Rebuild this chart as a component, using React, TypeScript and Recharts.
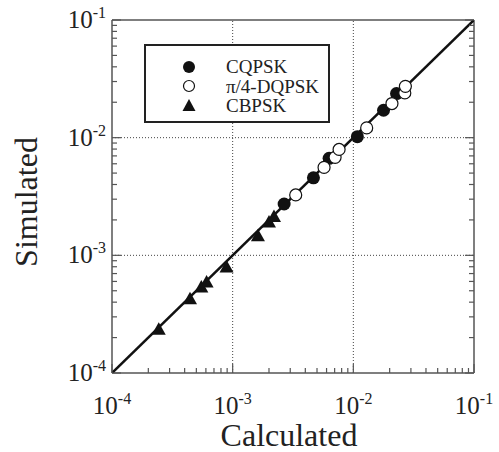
import React from 'react';
import {
  ScatterChart,
  Scatter,
  XAxis,
  YAxis,
  ReferenceLine,
  Legend,
} from 'recharts';

const FONT = '"Liberation Serif", "DejaVu Serif", serif';
const AXIS_COLOR = '#555';

// calculated (x) vs simulated (y) values
const cqpskX = [2.67e-3, 4.67e-3, 6.3e-3, 1.08e-2, 1.78e-2, 2.28e-2];
const cqpskY = [2.73e-3, 4.56e-3, 6.67e-3, 1.02e-2, 1.71e-2, 2.37e-2];

const dqpskX = [3.33e-3, 5.72e-3, 7.06e-3, 7.62e-3, 1.29e-2, 2.09e-2, 2.67e-2, 2.7e-2];
const dqpskY = [3.26e-3, 5.59e-3, 6.8e-3, 7.94e-3, 1.21e-2, 1.95e-2, 2.4e-2, 2.73e-2];

const cbpskX = [2.44e-4, 4.43e-4, 5.5e-4, 6.08e-4, 8.9e-4, 1.62e-3, 2.0e-3, 2.2e-3];
const cbpskY = [2.31e-4, 4.2e-4, 5.27e-4, 5.81e-4, 7.8e-4, 1.44e-3, 1.88e-3, 2.1e-3];

// y = x reference line
const refLineX = [1e-4, 1e-1];

const domain: [number, number] = [1e-4, 1e-1];
const decades = [1e-4, 1e-3, 1e-2];
const mantissas = [1, 2, 3, 4, 5, 6, 7, 8, 9];
const gridValues = [1e-3, 1e-2];
const allTicks = [...decades.flatMap((d) => mantissas.map((m) => m * d)), 1e-1];

const legendItems = [
  { name: 'CQPSK', kind: 'filled' },
  { name: 'π/4-DQPSK', kind: 'open' },
  { name: 'CBPSK', kind: 'triangle' },
];

const toPoints = (xs: number[], ys: number[]) => xs.map((x, i) => ({ x, y: ys[i] }));
const cqpskData = toPoints(cqpskX, cqpskY);
const dqpskData = toPoints(dqpskX, dqpskY);
const cbpskData = toPoints(cbpskX, cbpskY);
const refData = toPoints(refLineX, refLineX);

const isMajor = (v: number) => {
  const l = Math.log10(v);
  return Math.abs(l - Math.round(l)) < 1e-6;
};
const expOf = (v: number) => String(Math.round(Math.log10(v)));

const MAJOR_LEN = 9;
const MINOR_LEN = 5;
const TICK_FONT = 25;
const SUP_FONT = 16;

const BottomTick = ({ x, y, payload }: any) => {
  const major = isMajor(payload.value);
  return (
    <g>
      <line x1={x} x2={x} y1={y} y2={y - (major ? MAJOR_LEN : MINOR_LEN)} stroke={AXIS_COLOR} strokeWidth={1.2} />
      {major && (
        <text x={x} y={y + 41} textAnchor="middle" fontFamily={FONT} fontSize={TICK_FONT} fill="#222">
          10<tspan dy={-10} fontSize={SUP_FONT}>{expOf(payload.value)}</tspan>
        </text>
      )}
    </g>
  );
};

const TopTick = ({ x, y, payload }: any) => {
  const major = isMajor(payload.value);
  return <line x1={x} x2={x} y1={y} y2={y + (major ? MAJOR_LEN : MINOR_LEN)} stroke={AXIS_COLOR} strokeWidth={1.2} />;
};

const LeftTick = ({ x, y, payload }: any) => {
  const major = isMajor(payload.value);
  return (
    <g>
      <line x1={x} x2={x + (major ? MAJOR_LEN : MINOR_LEN)} y1={y} y2={y} stroke={AXIS_COLOR} strokeWidth={1.2} />
      {major && (
        <text x={x - 6} y={y + 8} textAnchor="end" fontFamily={FONT} fontSize={TICK_FONT} fill="#222">
          10<tspan dy={-10} fontSize={SUP_FONT}>{expOf(payload.value)}</tspan>
        </text>
      )}
    </g>
  );
};

const RightTick = ({ x, y, payload }: any) => {
  const major = isMajor(payload.value);
  return <line x1={x} x2={x - (major ? MAJOR_LEN : MINOR_LEN)} y1={y} y2={y} stroke={AXIS_COLOR} strokeWidth={1.2} />;
};

const FilledCircle = ({ cx, cy }: any) => <circle cx={cx} cy={cy} r={6.5} fill="#111" />;
const OpenCircle = ({ cx, cy }: any) => (
  <circle cx={cx} cy={cy} r={6} fill="#fff" stroke="#111" strokeWidth={1.2} />
);
const Triangle = ({ cx, cy }: any) => (
  <path d={`M${cx},${cy - 8} L${cx + 7},${cy + 4.5} L${cx - 7},${cy + 4.5} Z`} fill="#111" />
);
const NoShape = () => null;

const LegendSymbol = ({ kind }: { kind: string }) => (
  <svg width={16} height={16} style={{ display: 'block' }}>
    {kind === 'filled' && <circle cx={8} cy={8} r={6} fill="#111" />}
    {kind === 'open' && <circle cx={8} cy={8} r={5.5} fill="#fff" stroke="#111" strokeWidth={1.2} />}
    {kind === 'triangle' && <path d="M8,1 L14.5,13 L1.5,13 Z" fill="#111" />}
  </svg>
);

const LegendBox = () => (
  <div
    style={{
      width: 186,
      height: 79,
      border: '2px solid #222',
      boxSizing: 'border-box',
      paddingTop: 11,
      fontFamily: FONT,
      fontSize: 19,
      color: '#222',
      background: '#fff',
    }}
  >
    {legendItems.map((item) => (
      <div key={item.name} style={{ display: 'flex', alignItems: 'center', height: 19.5 }}>
        <div style={{ width: 35 }} />
        <LegendSymbol kind={item.kind} />
        <span style={{ marginLeft: 29, lineHeight: '19px' }}>{item.name}</span>
      </div>
    ))}
  </div>
);

export default function App() {
  return (
    <div style={{ position: 'absolute', left: 0, top: 0, background: '#fff' }}>
      <ScatterChart width={499} height={452} margin={{ top: 0, right: 0, bottom: 0, left: 0 }}>
        <XAxis
          xAxisId="bottom"
          dataKey="x"
          type="number"
          scale="log"
          domain={domain}
          allowDataOverflow
          ticks={allTicks}
          interval={0}
          height={79}
          tickSize={0}
          tickMargin={0}
          tickLine={false}
          tick={<BottomTick />}
          axisLine={{ stroke: AXIS_COLOR, strokeWidth: 1.5 }}
          label={{
            content: ({ viewBox }: any) => (
              <text x={289} y={viewBox.y + viewBox.height - 6} textAnchor="middle" fontFamily={FONT} fontSize={32} fill="#222">
                Calculated
              </text>
            ),
          }}
        />
        <XAxis
          xAxisId="top"
          orientation="top"
          type="number"
          scale="log"
          domain={domain}
          allowDataOverflow
          ticks={allTicks}
          interval={0}
          height={20}
          tickSize={0}
          tickMargin={0}
          tickLine={false}
          tick={<TopTick />}
          axisLine={{ stroke: AXIS_COLOR, strokeWidth: 1.5 }}
        />
        <YAxis
          yAxisId="left"
          dataKey="y"
          type="number"
          scale="log"
          domain={domain}
          allowDataOverflow
          ticks={allTicks}
          interval={0}
          width={112}
          tickSize={0}
          tickMargin={0}
          tickLine={false}
          tick={<LeftTick />}
          axisLine={{ stroke: AXIS_COLOR, strokeWidth: 1.5 }}
          label={{
            content: () => (
              <text
                x={37}
                y={202}
                transform="rotate(-90, 37, 202)"
                textAnchor="middle"
                fontFamily={FONT}
                fontSize={32}
                fill="#222"
              >
                Simulated
              </text>
            ),
          }}
        />
        <YAxis
          yAxisId="right"
          orientation="right"
          type="number"
          scale="log"
          domain={domain}
          allowDataOverflow
          ticks={allTicks}
          interval={0}
          width={25}
          tickSize={0}
          tickMargin={0}
          tickLine={false}
          tick={<RightTick />}
          axisLine={{ stroke: AXIS_COLOR, strokeWidth: 1.5 }}
        />
        {gridValues.map((v) => (
          <ReferenceLine key={`vx${v}`} x={v} xAxisId="bottom" yAxisId="left" stroke="#444" strokeDasharray="1 2" />
        ))}
        {gridValues.map((v) => (
          <ReferenceLine key={`hy${v}`} y={v} xAxisId="bottom" yAxisId="left" stroke="#444" strokeDasharray="1 2" />
        ))}
        <Legend
          layout="vertical"
          align="center"
          verticalAlign="middle"
          content={<LegendBox />}
          wrapperStyle={{ left: 144, top: 44, width: 186, height: 79 }}
        />
        <Scatter
          name="y=x"
          data={refData}
          xAxisId="bottom"
          yAxisId="left"
          line={{ stroke: '#111', strokeWidth: 2.5 }}
          shape={<NoShape />}
          legendType="none"
          isAnimationActive={false}
        />
        <Scatter name="CQPSK" data={cqpskData} xAxisId="bottom" yAxisId="left" shape={<FilledCircle />} isAnimationActive={false} />
        <Scatter name="π/4-DQPSK" data={dqpskData} xAxisId="bottom" yAxisId="left" shape={<OpenCircle />} isAnimationActive={false} />
        <Scatter name="CBPSK" data={cbpskData} xAxisId="bottom" yAxisId="left" shape={<Triangle />} isAnimationActive={false} />
      </ScatterChart>
    </div>
  );
}
